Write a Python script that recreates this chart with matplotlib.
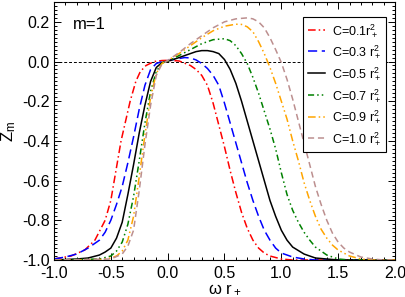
import matplotlib
matplotlib.use("Agg")
import matplotlib.pyplot as plt
from matplotlib.ticker import MultipleLocator

plt.rcParams["font.family"] = ["Liberation Sans", "DejaVu Sans"]
plt.rcParams["mathtext.fontset"] = "custom"
plt.rcParams["mathtext.rm"] = "Liberation Sans"
plt.rcParams["mathtext.it"] = "Liberation Sans"

# values (omega r_+ , Z_m)
x_01 = [-1.0, -0.9, -0.85, -0.73, -0.64, -0.55, -0.5, -0.47, -0.41, -0.37, -0.33, -0.28,
        -0.24, -0.19, -0.12, -0.05, 0.0, 0.1, 0.2, 0.25, 0.3, 0.35, 0.4, 0.45, 0.5, 0.55,
        0.6, 0.65, 0.7, 0.75, 0.8, 0.85, 0.9, 1.0, 1.1, 2.0]
z_01 = [-0.995, -0.985, -0.98, -0.95, -0.9, -0.8, -0.7, -0.6, -0.4, -0.3, -0.2, -0.1,
        -0.05, -0.02, 0.0, 0.005, 0.006, 0.003, -0.02, -0.04, -0.07, -0.12, -0.21, -0.32,
        -0.43, -0.55, -0.66, -0.76, -0.84, -0.9, -0.94, -0.965, -0.98, -0.995, -1.0, -1.0]

x_03 = [-1.0, -0.9, -0.8, -0.7, -0.6, -0.55, -0.5, -0.45, -0.4, -0.35, -0.3, -0.25, -0.2,
        -0.15, -0.1, -0.05, 0.0, 0.1, 0.15, 0.2, 0.25, 0.3, 0.35, 0.4, 0.45, 0.5, 0.55, 0.6,
        0.65, 0.7, 0.75, 0.8, 0.85, 0.9, 0.95, 1.0, 1.1, 1.2, 1.3, 2.0]
z_03 = [-0.995, -0.985, -0.97, -0.94, -0.9, -0.86, -0.8, -0.72, -0.63, -0.51, -0.38, -0.24,
        -0.12, -0.04, -0.01, 0.0, 0.005, 0.015, 0.02, 0.018, 0.008, -0.01, -0.035, -0.07,
        -0.12, -0.21, -0.31, -0.41, -0.51, -0.61, -0.7, -0.78, -0.85, -0.9, -0.94, -0.965,
        -0.985, -0.995, -1.0, -1.0]

x_05 = [-1.0, -0.8, -0.7, -0.6, -0.55, -0.5, -0.45, -0.4, -0.35, -0.3, -0.25, -0.2, -0.15,
        -0.1, -0.05, 0.0, 0.05, 0.1, 0.15, 0.2, 0.25, 0.3, 0.35, 0.4, 0.45, 0.5, 0.55, 0.6,
        0.65, 0.7, 0.75, 0.8, 0.85, 0.9, 0.95, 1.0, 1.05, 1.1, 1.2, 1.3, 1.4, 1.5, 2.0]
z_05 = [-1.0, -0.995, -0.99, -0.975, -0.96, -0.94, -0.89, -0.81, -0.67, -0.52, -0.36, -0.22,
        -0.1, -0.03, -0.005, 0.002, 0.01, 0.02, 0.03, 0.04, 0.05, 0.055, 0.055, 0.05, 0.04,
        0.01, -0.04, -0.11, -0.2, -0.3, -0.4, -0.5, -0.6, -0.7, -0.78, -0.85, -0.9, -0.935,
        -0.97, -0.99, -0.995, -1.0, -1.0]

x_07 = [-1.0, -0.6, -0.5, -0.45, -0.4, -0.35, -0.3, -0.25, -0.2, -0.15, -0.1, -0.05, 0.0,
        0.05, 0.1, 0.2, 0.3, 0.4, 0.5, 0.55, 0.6, 0.65, 0.7, 0.75, 0.8, 0.85, 0.9, 0.95, 1.0,
        1.05, 1.1, 1.15, 1.2, 1.25, 1.3, 1.4, 1.5, 1.6, 2.0]
z_07 = [-1.0, -0.995, -0.98, -0.955, -0.91, -0.82, -0.68, -0.5, -0.31, -0.15, -0.05, -0.008,
        0.003, 0.015, 0.03, 0.06, 0.09, 0.11, 0.115, 0.105, 0.08, 0.04, -0.01, -0.08, -0.16,
        -0.25, -0.34, -0.44, -0.56, -0.67, -0.75, -0.81, -0.86, -0.9, -0.935, -0.975, -0.995,
        -1.0, -1.0]

x_09 = [-1.0, -0.6, -0.5, -0.45, -0.4, -0.35, -0.3, -0.25, -0.2, -0.15, -0.1, -0.05, 0.0,
        0.1, 0.2, 0.3, 0.4, 0.5, 0.6, 0.65, 0.7, 0.75, 0.8, 0.85, 0.9, 0.95, 1.0, 1.05, 1.1,
        1.15, 1.2, 1.25, 1.3, 1.35, 1.4, 1.45, 1.5, 1.6, 1.7, 1.8, 2.0]
z_09 = [-1.0, -0.998, -0.99, -0.98, -0.955, -0.9, -0.78, -0.58, -0.37, -0.18, -0.06, -0.01,
        0.005, 0.04, 0.08, 0.12, 0.155, 0.178, 0.188, 0.187, 0.175, 0.15, 0.1, 0.04, -0.03,
        -0.11, -0.2, -0.29, -0.4, -0.5, -0.61, -0.7, -0.78, -0.845, -0.89, -0.925, -0.95,
        -0.98, -0.995, -1.0, -1.0]

x_10 = [-1.0, -0.5, -0.4, -0.35, -0.3, -0.25, -0.2, -0.15, -0.1, -0.05, 0.0, 0.1, 0.2, 0.3,
        0.4, 0.5, 0.6, 0.7, 0.75, 0.8, 0.85, 0.9, 0.95, 1.0, 1.05, 1.1, 1.15, 1.2, 1.25, 1.3,
        1.35, 1.4, 1.45, 1.5, 1.55, 1.6, 1.7, 1.8, 1.9, 2.0]
z_10 = [-1.0, -0.995, -0.97, -0.93, -0.85, -0.65, -0.42, -0.22, -0.07, -0.012, 0.005, 0.045,
        0.09, 0.13, 0.17, 0.2, 0.215, 0.22, 0.215, 0.2, 0.17, 0.12, 0.06, -0.005, -0.09,
        -0.19, -0.3, -0.41, -0.52, -0.63, -0.72, -0.8, -0.865, -0.91, -0.94, -0.96, -0.985,
        -0.995, -1.0, -1.0]

labels = ["C=0.1r$_+^2$", "C=0.3 r$_+^2$", "C=0.5 r$_+^2$",
          "C=0.7 r$_+^2$", "C=0.9 r$_+^2$", "C=1.0 r$_+^2$"]

fig = plt.figure(figsize=(4.05, 2.97), dpi=100)
ax = fig.add_axes([0.1333, 0.1246, 0.842, 0.8687])

ax.axhline(0.0, color="black", lw=0.7, ls=(0, (3, 2)))

ax.plot(x_01, z_01, color="red", lw=1.1, ls=(0, (5, 2, 1, 2)), label=labels[0])
ax.plot(x_03, z_03, color="blue", lw=1.1, ls=(0, (6, 3)), label=labels[1])
ax.plot(x_05, z_05, color="black", lw=1.1, ls="-", label=labels[2])
ax.plot(x_07, z_07, color="green", lw=1.1, ls=(0, (4, 2, 1, 2, 1, 2)), label=labels[3])
ax.plot(x_09, z_09, color="orange", lw=1.1, ls=(0, (5, 2, 1, 2, 1, 2)), label=labels[4])
ax.plot(x_10, z_10, color="rosybrown", lw=1.1, ls=(0, (4, 2.5)), label=labels[5])

ax.set_xlim(-1.0, 2.0)
ax.set_ylim(-1.0, 0.3)
ax.xaxis.set_minor_locator(MultipleLocator(0.1))
ax.yaxis.set_minor_locator(MultipleLocator(0.02))
ax.tick_params(which="both", direction="in", top=True, right=True, width=0.7, labelsize=11.5)
ax.tick_params(which="major", length=5)
ax.tick_params(which="minor", length=2.5)
ax.tick_params(axis="y", which="major", pad=3)
ax.tick_params(axis="x", which="major", pad=4)
ax.set_xticks([-1.0, -0.5, 0.0, 0.5, 1.0, 1.5, 2.0])
ax.set_xticklabels(["-1.0", "-0.5", "0.0", "0.5", "1.0", "1.5", "2.0"])
ax.set_yticks([-1.0, -0.8, -0.6, -0.4, -0.2, 0.0, 0.2])
ax.set_yticklabels(["-1.0", "-0.8", "-0.6", "-0.4", "-0.2", "0.0", "0.2"])
for s in ax.spines.values():
    s.set_linewidth(0.8)

ax.set_xlabel(r"$\omega$ r$_+$", fontsize=12, labelpad=1)
ax.set_ylabel("Z$_\\mathrm{m}$", fontsize=12, labelpad=3)
ax.text(0.055, 0.94, "m=1", transform=ax.transAxes, fontsize=12, va="top")

leg = ax.legend(loc="upper right", bbox_to_anchor=(0.974, 0.942), borderaxespad=0,
                fontsize=9, fancybox=False, framealpha=1, edgecolor="black",
                handlelength=1.4, labelspacing=0.4, borderpad=0.4, handletextpad=0.5)
leg.get_frame().set_linewidth(0.8)

plt.savefig("out.png", dpi=100)
